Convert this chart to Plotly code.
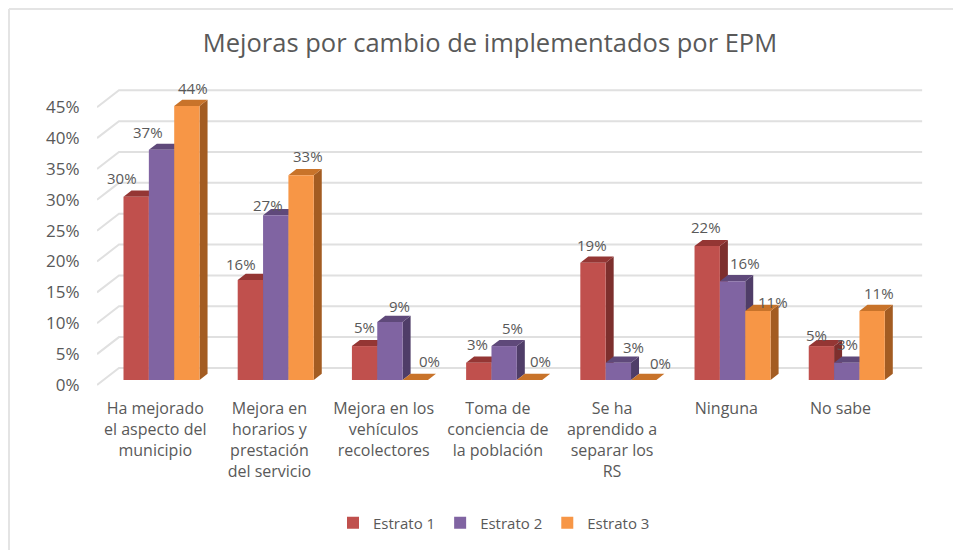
"""Barras agrupadas con aspecto 3D: mejoras por estrato."""

import plotly.graph_objects as go

# la pagina deja 8 px de margen arriba y a la izquierda
WIDTH = 953
HEIGHT = 542

categories = [
    "Ha mejorado<br>el aspecto del<br>municipio",
    "Mejora en<br>horarios y<br>prestación<br>del servicio",
    "Mejora en los<br>vehículos<br>recolectores",
    "Toma de<br>conciencia de<br>la población",
    "Se ha<br>aprendido a<br>separar los<br>RS",
    "Ninguna",
    "No sabe",
]
estrato_1 = [29.7, 16.2, 5.5, 2.8, 19.0, 21.7, 5.5]
estrato_2 = [37.3, 26.7, 9.4, 5.5, 2.8, 16.0, 2.8]
estrato_3 = [44.4, 33.2, 0, 0, 0, 11.2, 11.2]
labels_1 = ["30%", "16%", "5%", "3%", "19%", "22%", "5%"]
labels_2 = ["37%", "27%", "9%", "5%", "3%", "16%", "3%"]
labels_3 = ["44%", "33%", "0%", "0%", "0%", "11%", "11%"]
y_ticks = [0, 5, 10, 15, 20, 25, 30, 35, 40, 45]

# colores: frente, lateral, tapa
SERIES = [
    ("Estrato 1", estrato_1, labels_1, "#c0504d", "#7d2f2d", "#943634"),
    ("Estrato 2", estrato_2, labels_2, "#8064a2", "#4f3d68", "#5f497a"),
    ("Estrato 3", estrato_3, labels_3, "#f79646", "#a35c22", "#c8732a"),
]

# ajuste de etiquetas en pixeles, por grupo y serie
LABEL_DX = [
    [-14, -9, 0, -1, -1, -1, -5],
    [-14, -8, 10, 8, 15, 12, 1],
    [6, 7, 14, 11, 17, 15, 7],
]
LABEL_DY = [
    [19, 16, 19, 19, 18, 19, 11],
    [18, 10, 16, 18, 16, 18, 19],
    [18, 19, 19, 19, 17, 9, 18],
]

BAR_W = 0.222
DEPTH_X = 0.07
DEPTH_Y = 1.0
WALL_X = 22 / 114.3
WALL_FRONT_Y = -0.8
WALL_BACK_Y = 1.95
CATEGORY_SHIFT = -0.055  # los rotulos quedan un poco a la izquierda de las barras
X_RANGE = [-0.565, 6.685]
Y_RANGE = [-1.62, 48.62]
TEXT_COLOR = "#595959"
GRID_COLOR = "#e0e0e0"
FONT = "Open Sans"
MARGIN = dict(l=89, r=36, t=72, b=160)


def side_and_top(values, offset):
    """Poligonos del lateral y la tapa, separados por None."""
    side_x, side_y, top_x, top_y = [], [], [], []
    for i, v in enumerate(values):
        x0 = i + offset
        x1 = x0 + BAR_W
        side_x += [x1, x1 + DEPTH_X, x1 + DEPTH_X, x1, None]
        side_y += [0, DEPTH_Y, v + DEPTH_Y, v, None]
        top_x += [x0, x1, x1 + DEPTH_X, x0 + DEPTH_X, None]
        top_y += [v, v, v + DEPTH_Y, v + DEPTH_Y, None]
    return side_x, side_y, top_x, top_y


fig = go.Figure()

# pared del fondo
wall_x, wall_y = [], []
for t in y_ticks:
    wall_x += [X_RANGE[0], X_RANGE[0] + WALL_X, 6.66, None]
    wall_y += [t + WALL_FRONT_Y, t + WALL_BACK_Y, t + WALL_BACK_Y, None]
fig.add_trace(go.Scatter(
    x=wall_x, y=wall_y, mode="lines", showlegend=False, hoverinfo="skip",
    line=dict(color=GRID_COLOR, width=2),
))

# caras de profundidad en los ejes de abajo
for s, (name, values, _, _, side, top) in enumerate(SERIES):
    offset = -1.5 * BAR_W + s * BAR_W
    side_x, side_y, top_x, top_y = side_and_top(values, offset)
    fig.add_trace(go.Scatter(
        x=side_x, y=side_y, mode="lines", fill="toself", fillcolor=side,
        line=dict(width=0), showlegend=False, hoverinfo="skip",
    ))
    fig.add_trace(go.Scatter(
        x=top_x, y=top_y, mode="lines", fill="toself", fillcolor=top,
        line=dict(width=0), showlegend=False, hoverinfo="skip",
    ))

# frentes en los ejes superpuestos
for s, (name, values, _, front, _, _) in enumerate(SERIES):
    fig.add_trace(go.Bar(
        x=list(range(len(categories))), y=values, name=name,
        width=BAR_W, offset=-1.5 * BAR_W + s * BAR_W,
        marker=dict(color=front, line=dict(width=0)),
        xaxis="x2", yaxis="y2",
    ))

for s, (_, values, labels, _, _, _) in enumerate(SERIES):
    for i, v in enumerate(values):
        fig.add_annotation(
            x=i - BAR_W + s * BAR_W, y=v, xref="x2", yref="y2",
            text=labels[i], showarrow=False,
            xshift=LABEL_DX[s][i], yshift=LABEL_DY[s][i],
            font=dict(size=15, color=TEXT_COLOR, family=FONT),
        )

# marco de la imagen
plot_w = WIDTH - MARGIN["l"] - MARGIN["r"]
plot_h = HEIGHT - MARGIN["t"] - MARGIN["b"]
for x0, y0, x1, y1 in [(1, 1, WIDTH, 1), (1, 1, 1, HEIGHT)]:
    fig.add_shape(
        type="line", xref="paper", yref="paper", layer="below",
        x0=(x0 - MARGIN["l"]) / plot_w, x1=(x1 - MARGIN["l"]) / plot_w,
        y0=1 - (y0 - MARGIN["t"]) / plot_h, y1=1 - (y1 - MARGIN["t"]) / plot_h,
        line=dict(color="#e4e4e4", width=2),
    )

fig.update_layout(
    width=WIDTH,
    height=HEIGHT,
    barmode="overlay",
    paper_bgcolor="white",
    plot_bgcolor="rgba(0,0,0,0)",
    margin=MARGIN,
    font=dict(family=FONT, size=14, color=TEXT_COLOR),
    title=dict(
        text="Mejoras por cambio de implementados por EPM",
        x=482 / WIDTH, xanchor="center", y=1 - 35 / HEIGHT, yanchor="middle",
        font=dict(family=FONT, size=25.5, color=TEXT_COLOR),
    ),
    xaxis=dict(
        range=X_RANGE, tickmode="array",
        tickvals=[i + CATEGORY_SHIFT for i in range(len(categories))],
        ticktext=categories,
        showgrid=False, zeroline=False, showline=False,
        ticks="outside", ticklen=4, tickcolor="rgba(0,0,0,0)",
        tickfont=dict(size=16, color=TEXT_COLOR),
    ),
    yaxis=dict(
        range=Y_RANGE, tickmode="array",
        tickvals=[t + WALL_FRONT_Y for t in y_ticks],
        ticktext=[f"{t}%" for t in y_ticks],
        showgrid=False, zeroline=False, showline=False,
        ticks="outside", ticklen=13, tickcolor="rgba(0,0,0,0)",
        tickfont=dict(size=17, color=TEXT_COLOR),
    ),
    xaxis2=dict(range=X_RANGE, overlaying="x", visible=False),
    yaxis2=dict(range=Y_RANGE, overlaying="y", visible=False),
    legend=dict(
        orientation="h", x=486 / WIDTH, xanchor="center",
        xref="container", yref="container",
        y=1 - 515 / HEIGHT, yanchor="middle",
        font=dict(size=15, color=TEXT_COLOR),
        traceorder="normal",
    ),
)

fig.write_html("out.html")
